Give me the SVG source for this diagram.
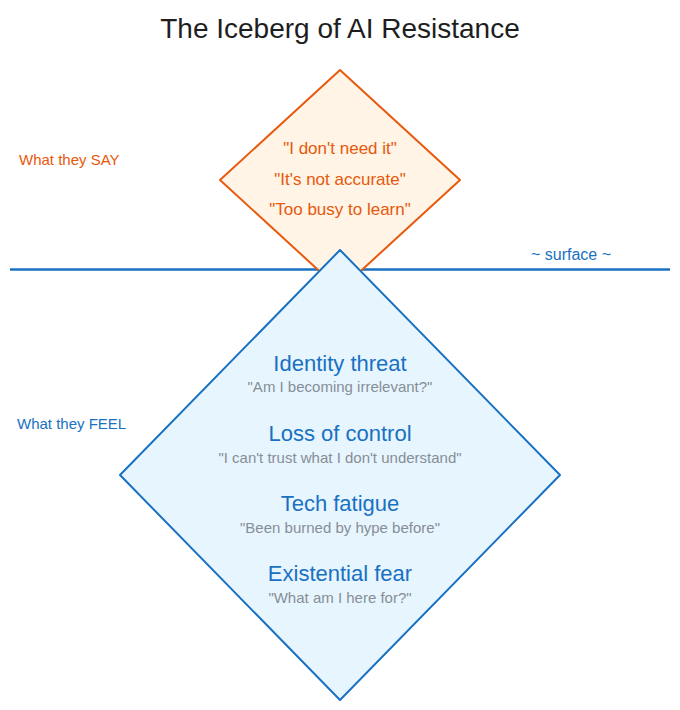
<svg xmlns="http://www.w3.org/2000/svg" width="680" height="710" viewBox="0 0 680 710">
<style>
text{font-family:"Liberation Sans","Noto Sans",sans-serif;text-anchor:middle;dominant-baseline:central}
.title{font-size:28px;fill:#1e1e1e}
.say{font-size:17px;fill:#e8590c}
.side-o{font-size:15px;fill:#e8590c;text-anchor:start}
.side-b{font-size:15px;fill:#1971c2;text-anchor:start}
.surf{font-size:16px;fill:#1971c2}
.head{font-size:22px;fill:#1971c2}
.sub{font-size:15px;fill:#868e96}
</style>
<rect width="680" height="710" fill="#ffffff"/>
<text class="title" x="340" y="28">The Iceberg of AI Resistance</text>
<g id="connectors">
<line x1="10" y1="269.5" x2="670" y2="269.5" stroke="#1971c2" stroke-width="2.5"/>
</g>
<g id="say-diamond">
<polygon points="340,70 460,180 340,290 220,180" fill="#fff4e6" stroke="#e8590c" stroke-width="2" stroke-linejoin="round"/>
<text class="say" x="340" y="148">"I don't need it"</text>
<text class="say" x="340" y="179">"It's not accurate"</text>
<text class="say" x="340" y="209">"Too busy to learn"</text>
</g>
<g id="feel-diamond">
<polygon points="340,250 560,475 340,700 120,475" fill="#e7f5ff" stroke="#1971c2" stroke-width="2" stroke-linejoin="round"/>
<text class="head" x="340" y="363">Identity threat</text>
<text class="sub" x="340" y="386">"Am I becoming irrelevant?"</text>
<text class="head" x="340" y="433">Loss of control</text>
<text class="sub" x="340" y="457">"I can't trust what I don't understand"</text>
<text class="head" x="340" y="503">Tech fatigue</text>
<text class="sub" x="340" y="527">"Been burned by hype before"</text>
<text class="head" x="340" y="573">Existential fear</text>
<text class="sub" x="340" y="597">"What am I here for?"</text>
</g>
<g id="labels">
<text class="side-o" x="19" y="159">What they SAY</text>
<text class="side-b" x="17" y="423">What they FEEL</text>
<text class="surf" x="571" y="254">~ surface ~</text>
</g>
</svg>
